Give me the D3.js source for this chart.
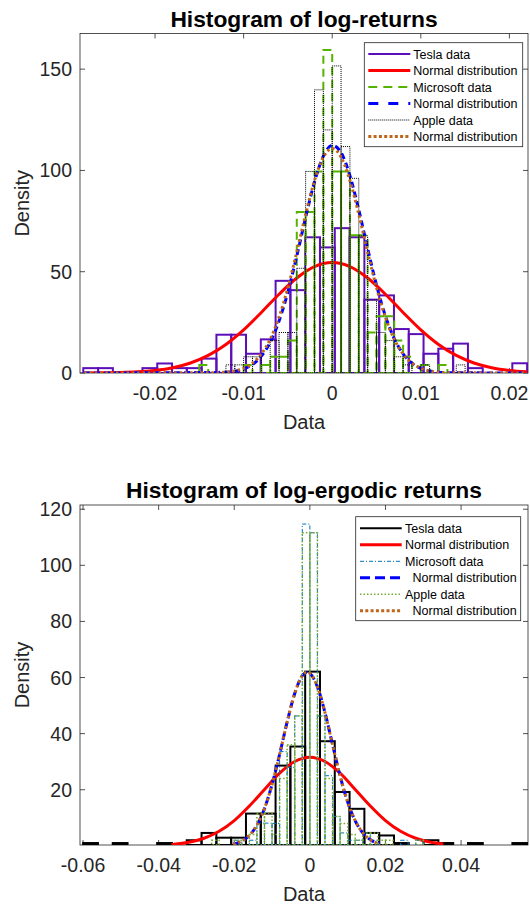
<!DOCTYPE html>
<html><head><meta charset="utf-8">
<script src="https://cdn.jsdelivr.net/npm/d3@7"></script>
<style>
body{margin:0;background:#fff}
svg{display:block}
text{font-family:"Liberation Sans",Arial,Helvetica,sans-serif;fill:#262626}
</style></head>
<body><svg id="c" width="530" height="905"></svg>
<script>
// ---------------- DATA ----------------
// Top panel: log-returns
const topXDomain = [-0.02847, 0.0221];
const topYDomain = [0, 167.6];
const topXTicks = [-0.02, -0.01, 0, 0.01, 0.02];
const topXTickLabels = ["-0.02", "-0.01", "0", "0.01", "0.02"];
const topYTicks = [0, 50, 100, 150];
const topYTickLabels = ["0", "50", "100", "150"];

const teslaTopEdges = [-0.0281, 0.0220];   // 30 bins
const teslaTop = [2.4,2.4,0,0,2.4,4.7,2.4,2.4,7.1,18.9,18.9,9.5,16.6,45.5,40.9,67,62,71.5,67,36.2,38.3,21.7,19.2,9.5,12,14.5,2.4,0,0,4.8];

const msftTopEdges = [-0.016, 0.015];       // bins of 0.001
const msftTop = [0,4,0,0,0,0,4,0,4,8,8,16,79.5,79.5,99.5,159.5,99.5,99.5,68,68,20,28,28,16,8,0,4,0,4,0,0];

const appleTopEdges = [-0.016, 0.015];
const appleTop = [0,0,0,0,4,4,8,8,0,16,20,20,51.7,99.5,139.8,120,151.6,111.8,96.1,67.7,36,20,16,8,4,0,4,0,0,0,4];

const teslaTopFitX = [-0.028,-0.026,-0.024,-0.022,-0.020,-0.018,-0.016,-0.014,-0.012,-0.010,-0.008,-0.006,-0.004,-0.002,0,0.002,0.004,0.006,0.008,0.010,0.012,0.014,0.016,0.018,0.020,0.022];
const teslaTopFitY = [0.035,0.096,0.245,0.58,1.28,2.61,4.93,8.67,14.1,21.3,29.9,38.9,46.9,52.5,54.5,52.5,46.9,38.9,29.9,21.3,14.1,8.67,4.93,2.61,1.28,0.58];

const msftTopFitX = [-0.028,-0.012,-0.011,-0.010,-0.009,-0.008,-0.007,-0.006,-0.005,-0.004,-0.003,-0.002,-0.001,0,0.001,0.002,0.003,0.004,0.005,0.006,0.007,0.008,0.009,0.010,0.011,0.012,0.013,0.022];
const msftTopFitY = [0,0.34,0.85,1.97,4.2,8.3,15.2,25.7,40.0,57.7,76.8,94.3,107.1,112.4,108.8,97.4,80.5,61.5,43.4,28.2,17.0,9.45,4.85,2.3,1.0,0.41,0.15,0];

const appleTopFitX = [-0.028,-0.013,-0.012,-0.011,-0.010,-0.009,-0.008,-0.007,-0.006,-0.005,-0.004,-0.003,-0.002,-0.001,0,0.001,0.002,0.003,0.004,0.005,0.006,0.007,0.008,0.009,0.010,0.011,0.012,0.013,0.022];
const appleTopFitY = [0,0.16,0.43,1.04,2.34,4.87,9.39,16.7,27.6,42.2,59.7,78.3,95.0,106.6,110.8,106.6,95.0,78.3,59.7,42.2,27.6,16.7,9.39,4.87,2.34,1.04,0.43,0.16,0];

// Bottom panel: log-ergodic returns
const botXDomain = [-0.0608, 0.0577];
const botYDomain = [0.3, 121.5];
const botXTicks = [-0.06, -0.04, -0.02, 0, 0.02, 0.04];
const botXTickLabels = ["-0.06", "-0.04", "-0.02", "0", "0.02", "0.04"];
const botYTicks = [20, 40, 60, 80, 100, 120];
const botYTickLabels = ["20", "40", "60", "80", "100", "120"];

const teslaBotEdges = [-0.05997, 0.05749];  // 30 bins
const teslaBot = [1,0,1,0,0,1,0,2,4.6,2.9,2.9,11.5,11.5,28.6,35.4,62.1,37.3,19.2,13.2,4.6,3.7,1,0,2,1,0,1,0,0,1];

const msftBotEdges = [-0.026, 0.030];       // bins of 0.002
const msftBot = [0,0,0,2,0,2,8.1,8.1,8,33.6,28,46.3,114.7,111.6,46.3,25,10.5,4.6,2,2,4.6,2,0,0,0,2,0,2];

const appleBotEdges = [-0.026, 0.030];
const appleBot = [2,0,0,2,0,4,11.7,11.7,4,24,36,46.3,111.6,111.6,46.3,24,10.5,8,4,2,4.6,4.6,2,2,0,0,0,2];

const teslaBotFitX = [-0.0366,-0.036,-0.032,-0.028,-0.024,-0.020,-0.016,-0.012,-0.008,-0.004,0,0.004,0.008,0.012,0.016,0.020,0.024,0.028,0.032,0.0353];
const teslaBotFitY = [0.474,0.544,1.28,2.71,5.2,9.02,14.2,20.1,25.9,30.05,31.6,30.05,25.9,20.1,14.2,9.02,5.2,2.71,1.28,0.635];

const msftBotFitX = [-0.0203,-0.018,-0.016,-0.014,-0.012,-0.010,-0.008,-0.006,-0.004,-0.002,-0.0007,0,0.002,0.004,0.006,0.008,0.010,0.012,0.014,0.016,0.0185];
const msftBotFitY = [0.61,1.70,3.72,7.38,13.3,21.9,32.6,44.2,54.3,60.7,61.9,61.5,56.7,47.5,36.1,24.9,15.6,8.9,4.61,2.17,0.74];

const appleBotFitX = [-0.0203,-0.018,-0.016,-0.014,-0.012,-0.010,-0.008,-0.006,-0.004,-0.002,-0.0007,0,0.002,0.004,0.006,0.008,0.010,0.012,0.014,0.016,0.0185];
const appleBotFitY = [0.61,1.70,3.72,7.38,13.3,21.9,32.6,44.2,54.3,60.7,61.9,61.5,56.7,47.5,36.1,24.9,15.6,8.9,4.61,2.17,0.74];

const legendLabelsTop = ["Tesla data","Normal distribution","Microsoft data","Normal distribution","Apple data","Normal distribution"];
const legendLabelsBot = ["Tesla data","Normal distribution","Microsoft data","  Normal distribution","Apple data","  Normal distribution"];

// ---------------- DRAW ----------------
const svg = d3.select("#c");
const AX = "#262626";

function binsFrom(edges, vals){
  const w = (edges[1]-edges[0])/vals.length;
  return vals.map((v,i)=>({x0:edges[0]+i*w, x1:edges[0]+(i+1)*w, v}));
}

function panel(cfg){
  const g = svg.append("g");
  const x = d3.scaleLinear().domain(cfg.xd).range([cfg.L, cfg.R]);
  const y = d3.scaleLinear().domain(cfg.yd).range([cfg.B, cfg.T]);
  const id = "clip"+cfg.name;
  svg.append("clipPath").attr("id", id).append("rect")
    .attr("x", cfg.L).attr("y", cfg.T).attr("width", cfg.R-cfg.L).attr("height", cfg.B-cfg.T);

  const ax = g.append("g");
  const tl = 5;
  cfg.xt.forEach((t,i)=>{
    const px = x(t);
    ax.append("line").attr("x1",px).attr("x2",px).attr("y1",cfg.B).attr("y2",cfg.B-tl).attr("stroke",AX).attr("stroke-width",0.8);
    ax.append("line").attr("x1",px).attr("x2",px).attr("y1",cfg.T).attr("y2",cfg.T+tl).attr("stroke",AX).attr("stroke-width",0.8);
    ax.append("text").attr("x",px).attr("y",cfg.B+27).attr("text-anchor","middle").attr("font-size",19.5).text(cfg.xtl[i]);
  });
  cfg.yt.forEach((t,i)=>{
    const py = y(t);
    ax.append("line").attr("x1",cfg.L).attr("x2",cfg.L+tl).attr("y1",py).attr("y2",py).attr("stroke",AX).attr("stroke-width",0.8);
    ax.append("line").attr("x1",cfg.R).attr("x2",cfg.R-tl).attr("y1",py).attr("y2",py).attr("stroke",AX).attr("stroke-width",0.8);
    ax.append("text").attr("x",cfg.L-8).attr("y",py).attr("dy","0.36em").attr("text-anchor","end").attr("font-size",19.5).text(cfg.ytl[i]);
  });
  ax.append("rect").attr("x",cfg.L).attr("y",cfg.T).attr("width",cfg.R-cfg.L).attr("height",cfg.B-cfg.T)
    .attr("fill","none").attr("stroke",AX).attr("stroke-width",0.8);

  g.append("text").attr("x",(cfg.L+cfg.R)/2).attr("y",cfg.T-7).attr("text-anchor","middle")
    .attr("font-size",22.8).attr("font-weight","bold").style("fill","#000").text(cfg.title);
  g.append("text").attr("x",(cfg.L+cfg.R)/2).attr("y",cfg.B+56).attr("text-anchor","middle")
    .attr("font-size",20).text("Data");
  g.append("text").attr("transform",`translate(${cfg.L-51},${(cfg.T+cfg.B)/2}) rotate(-90)`)
    .attr("text-anchor","middle").attr("font-size",20).text("Density");

  const plot = g.append("g").attr("clip-path",`url(#${id})`);
  const line = d3.line().x(d=>x(d[0])).y(d=>y(d[1])).curve(d3.curveMonotoneX);

  cfg.series.forEach(s=>{
    if(s.type==="hist"){
      plot.append("g").selectAll("rect").data(binsFrom(s.edges, s.vals)).join("rect")
        .attr("x",d=>x(d.x0)).attr("width",d=>x(d.x1)-x(d.x0))
        .attr("y",d=>y(Math.max(d.v,cfg.yd[0]))).attr("height",d=>y(cfg.yd[0])-y(Math.max(d.v,cfg.yd[0])))
        .attr("fill","none").attr("stroke",s.color).attr("stroke-width",s.w)
        .attr("stroke-dasharray",s.dash||null);
    } else {
      plot.append("path").datum(d3.zip(s.xs, s.ys)).attr("d",line)
        .attr("fill","none").attr("stroke",s.color).attr("stroke-width",s.w)
        .attr("stroke-dasharray",s.dash||null).attr("stroke-linecap",s.cap||"butt");
    }
  });

  const lg = g.append("g");
  const Lb = cfg.legend;
  lg.append("rect").attr("x",Lb.x).attr("y",Lb.y).attr("width",Lb.w).attr("height",Lb.h)
    .attr("fill","#fff").attr("stroke",AX).attr("stroke-width",0.8);
  cfg.series.forEach((s,i)=>{
    const ly = Lb.y + Lb.first + i*Lb.step;
    lg.append("line").attr("x1",Lb.x+Lb.l0).attr("x2",Lb.x+Lb.l1).attr("y1",ly).attr("y2",ly)
      .attr("stroke",s.color).attr("stroke-width",s.w).attr("stroke-dasharray",s.ldash||s.dash||null)
      .attr("stroke-linecap",s.cap||"butt");
    lg.append("text").attr("x",Lb.x+Lb.tx+(cfg.legendLabels[i].startsWith(" ")?7.5:0)).attr("y",ly).attr("dy","0.36em")
      .attr("font-size",12.5).style("fill","#000").text(cfg.legendLabels[i].trim());
  });
}

const PURPLE="#5c0fb8", RED="#ff0000", GREEN="#55b300", BLUE="#0000ff", BROWN="#bf661a", LBLUE="#0072bd", YGREEN="#77ac30";

panel({
  name:"top", title:"Histogram of log-returns",
  L:80, R:528, T:33.5, B:373,
  xd:topXDomain, yd:topYDomain, xt:topXTicks, xtl:topXTickLabels, yt:topYTicks, ytl:topYTickLabels,
  legend:{x:364.3, y:42.7, w:158.4, h:104, first:11.3, step:16.5, l0:4, l1:46, tx:49},
  legendLabels: legendLabelsTop,
  series:[
    {type:"hist", edges:teslaTopEdges, vals:teslaTop, color:PURPLE, w:2},
    {type:"line", xs:teslaTopFitX, ys:teslaTopFitY, color:RED, w:3},
    {type:"hist", edges:msftTopEdges, vals:msftTop, color:GREEN, w:2, dash:"8,5", ldash:"9,6"},
    {type:"line", xs:msftTopFitX, ys:msftTopFitY, color:BLUE, w:3, dash:"6,4", ldash:"10,10"},
    {type:"hist", edges:appleTopEdges, vals:appleTop, color:"#000", w:1, dash:"1,1"},
    {type:"line", xs:appleTopFitX, ys:appleTopFitY, color:BROWN, w:3, dash:"2.5,2.8", ldash:"3,2.3"}
  ]
});

panel({
  name:"bot", title:"Histogram of log-ergodic returns",
  L:80, R:528, T:505, B:845,
  xd:botXDomain, yd:botYDomain, xt:botXTicks, xtl:botXTickLabels, yt:botYTicks, ytl:botYTickLabels,
  legend:{x:355.7, y:516.7, w:165, h:104, first:11.6, step:16.5, l0:4.3, l1:46, tx:49.3},
  legendLabels: legendLabelsBot,
  series:[
    {type:"hist", edges:teslaBotEdges, vals:teslaBot, color:"#000", w:2},
    {type:"line", xs:teslaBotFitX, ys:teslaBotFitY, color:RED, w:3},
    {type:"hist", edges:msftBotEdges, vals:msftBot, color:LBLUE, w:1, dash:"4,2,1,2"},
    {type:"line", xs:msftBotFitX, ys:msftBotFitY, color:BLUE, w:3, dash:"7,4", ldash:"10,5"},
    {type:"hist", edges:appleBotEdges, vals:appleBot, color:YGREEN, w:1.5, dash:"1.5,2"},
    {type:"line", xs:appleBotFitX, ys:appleBotFitY, color:BROWN, w:3, dash:"2.5,2.8", ldash:"3,2.3"}
  ]
});
</script></body></html>
